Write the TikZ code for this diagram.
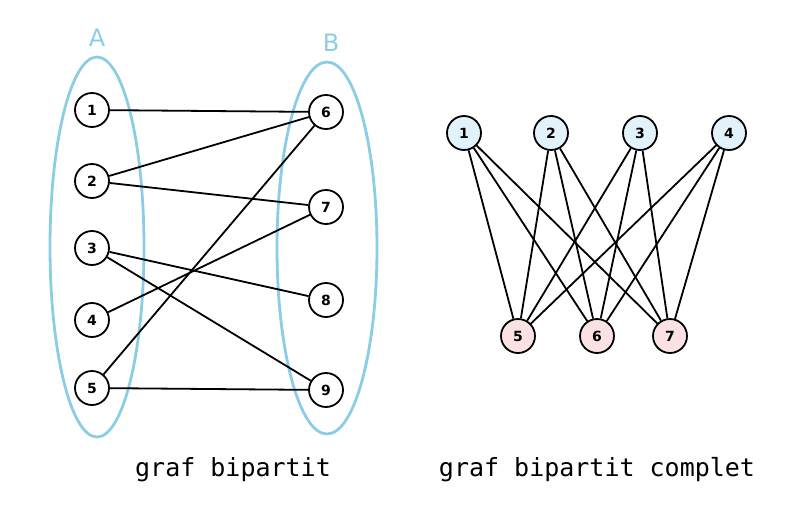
\documentclass[tikz,border=0pt]{standalone}
\usepackage{fontspec}
\setmainfont{DejaVu Sans}
\newfontfamily\mono{DejaVu Sans Mono}
\begin{document}
\begin{tikzpicture}[x=1pt,y=-1pt,
  v/.style={circle,draw,line width=1.8pt,minimum size=34pt,inner sep=0pt,font=\fontsize{14}{14}\selectfont\bfseries},
  vb/.style={v,fill=blueF},
  vp/.style={v,fill=pinkF},
  e/.style={line width=1.8pt},
  grp/.style={draw=lblue,line width=2.8pt},
  captxt/.style={font=\mono\fontsize{25}{25}\selectfont}]
\definecolor{lblue}{RGB}{140,205,230}
\definecolor{blueF}{RGB}{226,242,250}
\definecolor{pinkF}{RGB}{250,226,228}
\useasboundingbox (0,0) rectangle (800,525);
\draw[grp] (97,247) ellipse [x radius=47, y radius=190];
\draw[grp] (327,248) ellipse [x radius=50, y radius=186];
\node[text=lblue,font=\fontsize{24}{24}\selectfont] (A) at (97,38) {A};
\node[text=lblue,font=\fontsize{24}{24}\selectfont] (B) at (331,43) {B};
\node[v,fill=white] (a1) at (92,110) {1};
\node[v,fill=white] (a2) at (92,181) {2};
\node[v,fill=white] (a3) at (92,248) {3};
\node[v,fill=white] (a4) at (92,320) {4};
\node[v,fill=white] (a5) at (92,388) {5};
\node[v,fill=white] (b6) at (326,112) {6};
\node[v,fill=white] (b7) at (326,207) {7};
\node[v,fill=white] (b8) at (326,300) {8};
\node[v,fill=white] (b9) at (326,390) {9};
\foreach \p/\q in {a1/b6,a2/b6,a2/b7,a3/b8,a3/b9,a4/b7,a5/b6,a5/b9}
  \draw[e] (\p) -- (\q);
\node[vb] (c1) at (464,133) {1};
\node[vb] (c2) at (551,133) {2};
\node[vb] (c3) at (640,133) {3};
\node[vb] (c4) at (729,133) {4};
\node[vp] (d5) at (518,336) {5};
\node[vp] (d6) at (597,336) {6};
\node[vp] (d7) at (670,336) {7};
\foreach \p in {c1,c2,c3,c4}
  \foreach \q in {d5,d6,d7}
    \draw[e] (\p) -- (\q);
\node[captxt] (t1) at (233,470) {graf bipartit};
\node[captxt] (t2) at (597,470) {graf bipartit complet};
\end{tikzpicture}
\end{document}
